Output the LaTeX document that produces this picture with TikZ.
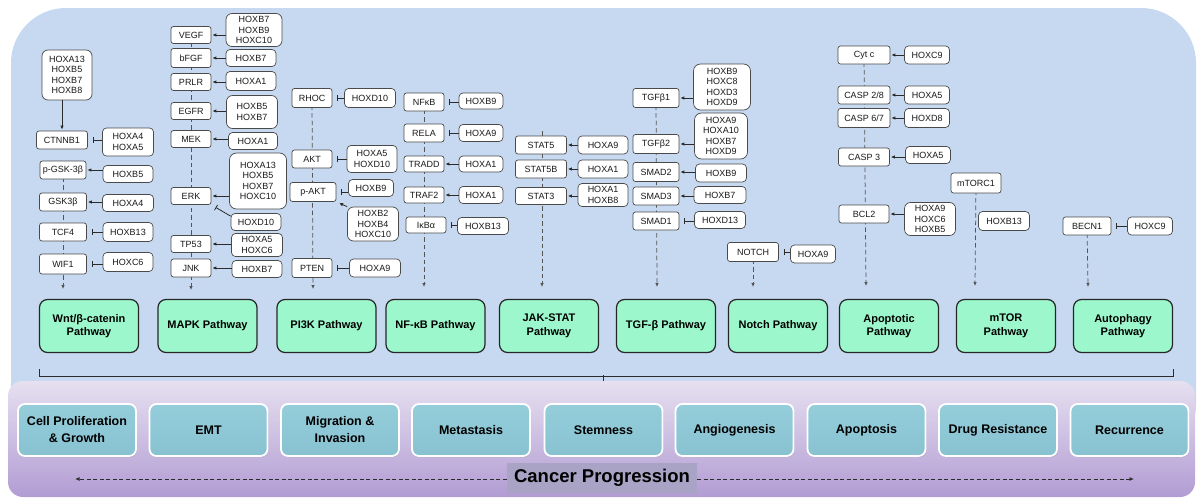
\documentclass[tikz,border=0pt]{standalone}
\usepackage{fontspec}
\setmainfont{Liberation Sans}
\usepackage{tikz}
\usetikzlibrary{calc,arrows.meta,backgrounds,shadows}
\definecolor{panelblue}{HTML}{C6D9F1}
\definecolor{lilactop}{HTML}{E6E0F0}
\definecolor{lilacbot}{HTML}{B29CD3}
\definecolor{pathgreen}{HTML}{9CF8CC}
\definecolor{tealtop}{HTML}{95CDDA}
\definecolor{tealbot}{HTML}{88C2D1}
\definecolor{labelgray}{HTML}{A9A3C6}
\definecolor{boxline}{HTML}{4A4A4A}
\definecolor{linedark}{HTML}{2B2B2B}
\definecolor{spinegray}{HTML}{555555}
\newcommand{\hxfont}{\fontsize{9}{10.5}\selectfont}
\newcommand{\pwfont}{\fontsize{11}{13.5}\selectfont\bfseries}
\newcommand{\ocfont}{\fontsize{12.5}{17}\selectfont\bfseries}
\tikzset{
  gene/.style={draw=boxline, fill=white, line width=0.7pt, rounded corners=2.5pt,
    inner xsep=2pt, inner ysep=1pt, minimum height=18pt, text=black!90, font=\hxfont},
  hox/.style={gene, align=center, rounded corners=4pt},
  pathway/.style={draw=black!85, line width=1.2pt, fill=pathgreen, rounded corners=8pt,
    minimum width=99pt, minimum height=53pt, align=center, font=\pwfont},
  outcome/.style={draw=white, line width=1.8pt, rounded corners=7pt, top color=tealtop,
    bottom color=tealbot, drop shadow={shadow xshift=0.8pt, shadow yshift=-1.2pt, opacity=0.35},
    minimum width=118pt, minimum height=52pt, align=center, font=\ocfont},
  act/.style={draw=linedark, line width=0.8pt, -{Latex[length=4pt,width=3.5pt]}, shorten >=1pt},
  inh/.style={draw=linedark, line width=0.8pt, -{Bar[width=6pt]}, shorten >=5pt},
  spine/.style={draw=spinegray, line width=0.75pt, dash pattern=on 4.5pt off 3pt,
    -{Latex[length=4pt,width=3.5pt]}},
  bracket/.style={draw=linedark, line width=0.8pt},
  prog/.style={draw=linedark, line width=0.9pt, dash pattern=on 4pt off 2.5pt,
    -{Latex[length=4.5pt,width=4pt]}}
}

\begin{document}
\begin{tikzpicture}[x=1pt, y=-1pt]
\useasboundingbox (0,0) rectangle (1202,498);
%panels
\begin{scope}[on background layer]
\fill[panelblue, rounded corners=55pt] (11,8) rectangle (1196,460);
\shade[top color=lilactop, bottom color=lilacbot, rounded corners=15pt] (8,381) rectangle (1195,497);
\end{scope}
%Wnt
\node[hox, minimum width=50pt, minimum height=50pt, rounded corners=6pt] (wh1) at (67,75) {HOXA13\\HOXB5\\HOXB7\\HOXB8};
\node[gene, minimum width=51pt] (ctnnb1) at (62,140) {CTNNB1};
\node[hox, minimum width=51pt, minimum height=28pt] (wh2) at (128,142) {HOXA4\\HOXA5};
\node[gene, minimum width=46pt] (pgsk) at (63,170) {p-GSK-3β};
\node[hox, minimum width=50pt, minimum height=17pt] (wh3) at (128,174) {HOXB5};
\node[gene, minimum width=47pt] (gsk3b) at (63,202) {GSK3β};
\node[hox, minimum width=51pt, minimum height=17pt] (wh4) at (128,203) {HOXA4};
\node[gene, minimum width=47pt] (tcf4) at (63,232) {TCF4};
\node[hox, minimum width=50pt, minimum height=19pt] (wh5) at (128,232) {HOXB13};
\node[gene, minimum width=47pt, minimum height=20pt] (wif1) at (63,264) {WIF1};
\node[hox, minimum width=50pt, minimum height=19pt] (wh6) at (128,262) {HOXC6};
\coordinate (wnttip) at (63,289);
\draw[act] (wh1.south -| ctnnb1) -- (ctnnb1);
\draw[inh] (wh2.west |- ctnnb1) -- (ctnnb1);
\draw[act] (wh3.west |- pgsk) -- (pgsk);
\draw[act] (wh4.west |- gsk3b) -- (gsk3b);
\draw[inh] (wh5.west |- tcf4) -- (tcf4);
\draw[inh] (wh6.west |- wif1) -- (wif1);
%MAPK
\node[gene, minimum width=40pt, minimum height=17pt] (vegf) at (191,35) {VEGF};
\node[hox, minimum width=56pt, minimum height=33pt, rounded corners=6pt] (mh1) at (254,30) {HOXB7\\HOXB9\\HOXC10};
\node[gene, minimum width=40pt, minimum height=19pt] (bfgf) at (191,58) {bFGF};
\node[hox, minimum width=50pt, minimum height=17pt] (mh2) at (251,58) {HOXB7};
\node[gene, minimum width=40pt, minimum height=17pt] (prlr) at (191,82) {PRLR};
\node[hox, minimum width=50pt, minimum height=19pt] (mh3) at (251,81) {HOXA1};
\node[gene, minimum width=40pt, minimum height=17pt] (egfr) at (191,111) {EGFR};
\node[hox, minimum width=51pt, minimum height=33pt, rounded corners=6pt] (mh4) at (252,112) {HOXB5\\HOXB7};
\node[gene, minimum width=40pt, minimum height=17pt] (mek) at (191,139) {MEK};
\node[hox, minimum width=49pt, minimum height=17pt] (mh5) at (253,141) {HOXA1};
\node[gene, minimum width=40pt, minimum height=17pt] (erk) at (191,196) {ERK};
\node[hox, minimum width=57pt, minimum height=56pt, rounded corners=7pt] (mh6) at (258,181) {HOXA13\\HOXB5\\HOXB7\\HOXC10};
\node[hox, minimum width=50pt, minimum height=17pt] (mh7) at (256,222) {HOXD10};
\node[gene, minimum width=40pt, minimum height=17pt] (tp53) at (191,244) {TP53};
\node[hox, minimum width=51pt, minimum height=23pt] (mh8) at (257,245) {HOXA5\\HOXC6};
\node[gene, minimum width=40pt, minimum height=18pt] (jnk) at (191,268) {JNK};
\node[hox, minimum width=50pt, minimum height=17pt] (mh9) at (257,269) {HOXB7};
\coordinate (mapktip) at (191,290);
\draw[act] (mh1.west |- vegf) -- (vegf);
\draw[act] (mh2.west |- bfgf) -- (bfgf);
\draw[act] (mh3.west |- prlr) -- (prlr);
\draw[act] (mh4.west |- egfr) -- (egfr);
\draw[act] (mh5.west |- mek) -- (mek);
\draw[act] (mh6.west |- erk) -- (erk);
\draw[inh] ([yshift=-3pt]mh7.north west) -- (erk.south east);
\draw[act] (mh8.west |- tp53) -- (tp53);
\draw[act] (mh9.west |- jnk) -- (jnk);
%PI3K
\node[gene, minimum width=40pt, minimum height=19pt] (rhoc) at (312,98) {RHOC};
\node[hox, minimum width=51pt, minimum height=19pt] (ph1) at (370,98) {HOXD10};
\node[gene, minimum width=40pt] (akt) at (312,159) {AKT};
\node[hox, minimum width=50pt, minimum height=27pt] (ph2) at (372,159) {HOXA5\\HOXD10};
\node[gene, minimum width=46pt, minimum height=19pt] (pakt) at (313,192) {p-AKT};
\node[hox, minimum width=45pt, minimum height=17pt] (ph3) at (371,188) {HOXB9};
\node[hox, minimum width=51pt, minimum height=34pt, rounded corners=6pt] (ph4) at (373,224) {HOXB2\\HOXB4\\HOXC10};
\node[gene, minimum width=40pt, minimum height=19pt] (pten) at (312,268) {PTEN};
\node[hox, minimum width=51pt] (ph5) at (375,268) {HOXA9};
\coordinate (pi3ktip) at (313,289);
\draw[inh] (ph1.west |- rhoc) -- (rhoc);
\draw[inh] (ph2.west |- akt) -- (akt);
\draw[inh] (ph3.west |- pakt) -- (pakt);
\draw[act, shorten >=3pt] (ph4.north west) -- (pakt.south east);
\draw[inh] (ph5.west |- pten) -- (pten);
%NF-kB
\node[gene, minimum width=40pt] (nfkb) at (424,102) {NFκB};
\node[hox, minimum width=44pt, minimum height=16pt] (nh1) at (481,101) {HOXB9};
\node[gene, minimum width=40pt] (rela) at (424,133) {RELA};
\node[hox, minimum width=44pt, minimum height=17pt] (nh2) at (481,133) {HOXA9};
\node[gene, minimum width=40pt, minimum height=16pt] (tradd) at (424,164) {TRADD};
\node[hox, minimum width=44pt, minimum height=16pt] (nh3) at (481,164) {HOXA1};
\node[gene, minimum width=40pt, minimum height=16pt] (traf2) at (424,195) {TRAF2};
\node[hox, minimum width=44pt, minimum height=17pt] (nh4) at (481,195) {HOXA1};
\node[gene, minimum width=40pt, minimum height=16pt] (ikba) at (426,225) {IκBα};
\node[hox, minimum width=51pt, minimum height=17pt] (nh5) at (483,226) {HOXB13};
\coordinate (nfkbtip) at (424,287);
\draw[inh] (nh1.west |- nfkb) -- (nfkb);
\draw[inh] (nh2.west |- rela) -- (rela);
\draw[act] (nh3.west |- tradd) -- (tradd);
\draw[act] (nh4.west |- traf2) -- (traf2);
\draw[inh] (nh5.west |- ikba) -- (ikba);
%JAK-STAT
\node[gene, minimum width=51pt] (stat5) at (541,145) {STAT5};
\node[hox, minimum width=50pt] (jh1) at (603,145) {HOXA9};
\node[gene, minimum width=51pt] (stat5b) at (541,169) {STAT5B};
\node[hox, minimum width=50pt] (jh2) at (603,169) {HOXA1};
\node[gene, minimum width=51pt, minimum height=17pt] (stat3) at (541,196) {STAT3};
\node[hox, minimum width=50pt, minimum height=23pt] (jh3) at (603,195) {HOXA1\\HOXB8};
\coordinate (jaktop) at (542,131);
\coordinate (jaktip) at (542,287);
\draw[act] (jh1.west |- stat5) -- (stat5);
\draw[act] (jh2.west |- stat5b) -- (stat5b);
\draw[act] (jh3.west |- stat3) -- (stat3);
%TGF-b
\node[gene, minimum width=46pt, minimum height=19pt] (tgfb1) at (656,98) {TGFβ1};
\node[hox, minimum width=57pt, minimum height=46pt, rounded corners=7pt] (th1) at (722,87) {HOXB9\\HOXC8\\HOXD3\\HOXD9};
\node[gene, minimum width=46pt, minimum height=19pt] (tgfb2) at (656,144) {TGFβ2};
\node[hox, minimum width=53pt, minimum height=46pt, rounded corners=7pt] (th2) at (721,136) {HOXA9\\HOXA10\\HOXB7\\HOXD9};
\node[gene, minimum width=46pt, minimum height=19pt] (smad2) at (656,172) {SMAD2};
\node[hox, minimum width=51pt] (th3) at (721,173) {HOXB9};
\node[gene, minimum width=46pt] (smad3) at (656,196) {SMAD3};
\node[hox, minimum width=52pt, minimum height=17pt] (th4) at (720,195) {HOXB7};
\node[gene, minimum width=46pt] (smad1) at (656,221) {SMAD1};
\node[hox, minimum width=51pt, minimum height=17pt] (th5) at (720,220) {HOXD13};
\coordinate (tgftip) at (657,287);
\draw[act] (th1.west |- tgfb1) -- (tgfb1);
\draw[act] (th2.west |- tgfb2) -- (tgfb2);
\draw[act] (th3.west |- smad2) -- (smad2);
\draw[act] (th4.west |- smad3) -- (smad3);
\draw[inh] (th5.west |- smad1) -- (smad1);
%Notch
\node[gene, minimum width=51pt, minimum height=19pt] (notch) at (753,252) {NOTCH};
\node[hox, minimum width=45pt] (nth) at (813,254) {HOXA9};
\coordinate (notchtip) at (753,287);
\draw[inh] (nth.west |- notch) -- (notch);
%Apoptotic
\node[gene, minimum width=52pt] (cytc) at (864,55) {Cyt c};
\node[hox, minimum width=45pt] (ah1) at (927,55) {HOXC9};
\node[gene, minimum width=52pt] (casp28) at (864,95) {CASP 2/8};
\node[hox, minimum width=45pt] (ah2) at (927,95) {HOXA5};
\node[gene, minimum width=52pt, minimum height=19pt] (casp67) at (864,118) {CASP 6/7};
\node[hox, minimum width=45pt, minimum height=19pt] (ah3) at (927,118) {HOXD8};
\node[gene, minimum width=51pt] (casp3) at (864,157) {CASP 3};
\node[hox, minimum width=45pt, minimum height=17pt] (ah4) at (928,155) {HOXA5};
\node[gene, minimum width=50pt] (bcl2) at (864,214) {BCL2};
\node[hox, minimum width=51pt, minimum height=33pt, rounded corners=6pt] (ah5) at (930,219) {HOXA9\\HOXC6\\HOXB5};
\coordinate (apoptip) at (866,286);
\draw[act] (ah1.west |- cytc) -- (cytc);
\draw[act] (ah2.west |- casp28) -- (casp28);
\draw[act] (ah3.west |- casp67) -- (casp67);
\draw[act] (ah4.west |- casp3) -- (casp3);
\draw[act] (ah5.west |- bcl2) -- (bcl2);
%mTOR
\node[gene, minimum width=50pt, minimum height=20pt] (mtorc1) at (976,183) {mTORC1};
\node[hox, minimum width=51pt, minimum height=19pt] (mth) at (1004,221) {HOXB13};
\coordinate (mtortip) at (975,286);
%Autophagy
\node[gene, minimum width=48pt] (becn1) at (1087,226) {BECN1};
\node[hox, minimum width=45pt] (auh) at (1150,226) {HOXC9};
\coordinate (autotip) at (1088,287);
\draw[inh] (auh.west |- becn1) -- (becn1);
%dashed spines
\begin{scope}[on background layer]
\draw[spine] (pgsk.center) -- (wnttip);
\draw[spine] (vegf.center) -- (mapktip);
\draw[spine] (rhoc.center) -- (pi3ktip);
\draw[spine] (nfkb.center) -- (nfkbtip);
\draw[spine] (jaktop) -- (jaktip);
\draw[spine] (tgfb1.center) -- (tgftip);
\draw[spine] (notch.center) -- (notchtip);
\draw[spine] (cytc.center) -- (apoptip);
\draw[spine] (mtorc1.center) -- (mtortip);
\draw[spine] (becn1.center) -- (autotip);
\end{scope}
%pathways
\node[pathway] (wnt) at (89,326) {Wnt/β-catenin\\Pathway};
\node[pathway] (mapk) at (207.5,326) {MAPK Pathway};
\node[pathway] (pi3k) at (326.5,326) {PI3K Pathway};
\node[pathway] (nfkbp) at (435.5,326) {NF-κB Pathway};
\node[pathway] (jak) at (549,326) {JAK-STAT\\Pathway};
\node[pathway] (tgf) at (666,326) {TGF-β Pathway};
\node[pathway] (notchp) at (778,326) {Notch Pathway};
\node[pathway] (apop) at (889,326) {Apoptotic\\Pathway};
\node[pathway] (mtor) at (1006,326) {mTOR\\Pathway};
\node[pathway] (auto) at (1123,326) {Autophagy\\Pathway};
%bracket
\draw[bracket] ($(wnt.south west)+(0,16)$) -- ($(wnt.south west)+(0,23)$) -- ($(auto.south east)+(0,23)$) -- ($(auto.south east)+(0,16)$);
\draw[bracket] (603,375) -- (603,381);
%outcomes
\node[outcome] (prolif) at (77,430) {Cell Proliferation\\\& Growth};
\node[outcome] (emt) at (208.5,430) {EMT};
\node[outcome] (migr) at (340,430) {Migration \&\\Invasion};
\node[outcome] (meta) at (471,430) {Metastasis};
\node[outcome] (stem) at (603.5,430) {Stemness};
\node[outcome] (angio) at (734.5,430) {Angiogenesis};
\node[outcome] (apopt) at (866.5,430) {Apoptosis};
\node[outcome] (drug) at (998,430) {Drug Resistance};
\node[outcome] (recur) at (1129.5,430) {Recurrence};
%progression
\node[fill=labelgray, minimum width=190pt, minimum height=30pt, font=\fontsize{18.5}{20}\selectfont\bfseries] (cp) at (602,478) {Cancer Progression};
\coordinate (pleft) at (75,479);
\coordinate (pright) at (1134,479);
\draw[prog] (cp.west |- pleft) -- (pleft);
\draw[prog] (cp.east |- pright) -- (pright);
\end{tikzpicture}
\end{document}
